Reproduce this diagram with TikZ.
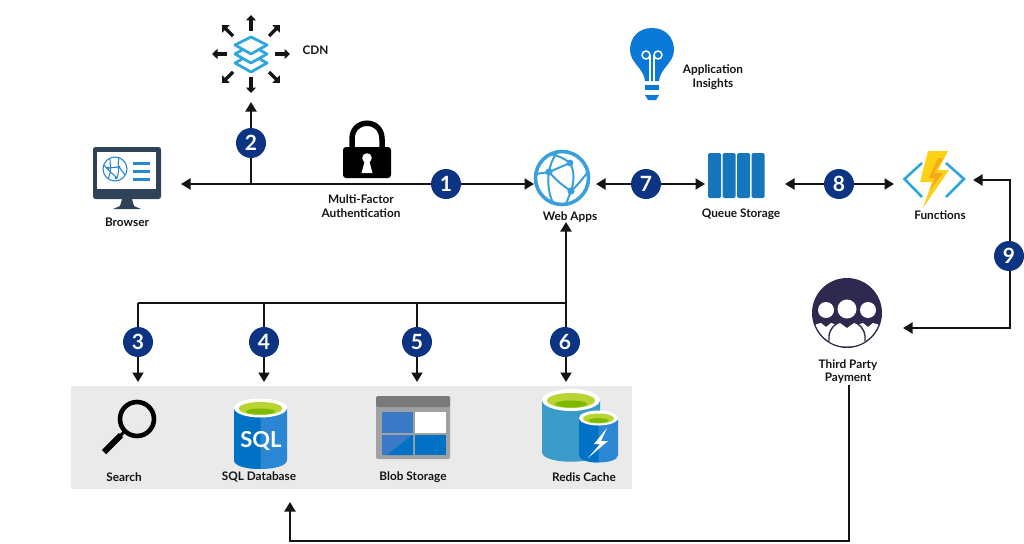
\documentclass[tikz,border=0pt]{standalone}
\usepackage{fontspec}
\setmainfont{Lato}
\usetikzlibrary{arrows.meta}
\definecolor{navy}{HTML}{0C3482}
\definecolor{ink}{HTML}{141414}
\definecolor{panel}{HTML}{EAEAEA}
\definecolor{cyanb}{HTML}{2EA7E0}
\definecolor{azblue}{HTML}{0072C6}
\definecolor{azlight}{HTML}{2B87D3}
\definecolor{azmid}{HTML}{3A78C8}
\definecolor{monitor}{HTML}{2F4358}
\definecolor{webb}{HTML}{3A9FDC}
\definecolor{redisb}{HTML}{3A9BC9}
\definecolor{redisl}{HTML}{59B4D9}
\definecolor{queueb}{HTML}{1676BC}
\definecolor{bulbb}{HTML}{0A78D7}
\definecolor{people}{HTML}{2E2A4F}
\definecolor{lime}{HTML}{B8D432}
\definecolor{limed}{HTML}{7FBA00}
\definecolor{blobg}{HTML}{A0A1A2}
\definecolor{blobd}{HTML}{7A7A7A}
\definecolor{bolty}{HTML}{FCD116}
\definecolor{bolto}{HTML}{F7A81B}
\tikzset{
  x=1pt,y=-1pt,
  badge/.style={circle,fill=navy,text=white,font=\fontsize{21}{21}\selectfont\bfseries,minimum size=30pt,inner sep=0pt,outer sep=0pt},
  lbl/.style={font=\fontsize{11.8}{13.4}\selectfont\bfseries,text=ink,align=center,inner sep=0pt},
  link/.style={line width=2pt,draw=ink},
  arr/.style={link,-{Triangle[length=9.5pt,width=11pt]}},
  arrs/.style={link,{Triangle[length=9.5pt,width=11pt]}-{Triangle[length=9.5pt,width=11pt]}},
  mini/.style={line width=3.2pt,draw=ink,-{Triangle[length=5.5pt,width=10pt,sep=0pt]}}
}
\begin{document}
\begin{tikzpicture}
\useasboundingbox (0,0) rectangle (1024,543);
\fill[panel] (71,386) rectangle (632,489);

% anchors for the connectors
\coordinate (browserIn) at (181,184);
\coordinate (webIn) at (534,184);
\coordinate (cdnIn) at (251,102);
\coordinate (junctionCdn) at (251,184);
\coordinate (webLeft) at (596,184);
\coordinate (queueLeft) at (705,184);
\coordinate (queueRight) at (785,184);
\coordinate (funcLeft) at (894,184);
\coordinate (funcRight) at (973,180);
\coordinate (funcCorner) at (1010,180);
\coordinate (tpCorner) at (1010,328);
\coordinate (tpRight) at (903,328);
\coordinate (webBottom) at (566,222);
\coordinate (webJunction) at (566,303);
\coordinate (busLeft) at (138,303);
\coordinate (searchIn) at (138,382);
\coordinate (sqlTop) at (264,303);
\coordinate (sqlIn) at (264,382);
\coordinate (blobTop) at (417,303);
\coordinate (blobIn) at (417,382);
\coordinate (redisIn) at (566,382);
\coordinate (tpOut) at (849,385);
\coordinate (tpCornerLow) at (849,541);
\coordinate (sqlCornerLow) at (290,541);
\coordinate (sqlBack) at (290,502);

% connectors
\draw[arrs] (browserIn) -- (webIn);
\draw[arr] (junctionCdn) -- (cdnIn);
\draw[arrs] (webLeft) -- (queueLeft);
\draw[arrs] (queueRight) -- (funcLeft);
\draw[arrs] (funcRight) -- (funcCorner) -- (tpCorner) -- (tpRight);
\draw[arr] (webJunction) -- (webBottom);
\draw[link] (webJunction) -- (busLeft);
\draw[arr] (busLeft) -- (searchIn);
\draw[arr] (sqlTop) -- (sqlIn);
\draw[arr] (blobTop) -- (blobIn);
\draw[arr] (webJunction) -- (redisIn);
\draw[arr] (tpOut) -- (tpCornerLow) -- (sqlCornerLow) -- (sqlBack);

% badges
\node[badge] (b1) at (446,184) {1};
\node[badge] (b2) at (251,143) {2};
\node[badge] (b3) at (138,342) {3};
\node[badge] (b4) at (264,342) {4};
\node[badge] (b5) at (417,342) {5};
\node[badge] (b6) at (565,342) {6};
\node[badge] (b7) at (646,184) {7};
\node[badge] (b8) at (839,184) {8};
\node[badge] (b9) at (1009,256) {9};

% CDN icon
\foreach \a/\b/\c/\d in {251/31/251/15,251/77/251/93,227/54/212/54,275/54/290/54,233/36/222/25,269/36/280/25,233/72/222/83,269/72/280/83}
  \draw[mini] (\a,\b) -- (\c,\d);
\draw[cyanb,line width=2.8pt,line join=round,fill=white] (235,63) -- (251,72) -- (267,63) -- (251,54) -- cycle;
\draw[cyanb,line width=2.8pt,line join=round,fill=white] (235,54) -- (251,63) -- (267,54) -- (251,45) -- cycle;
\draw[cyanb,line width=2.8pt,line join=round,fill=white] (235,45) -- (251,54) -- (267,45) -- (251,37) -- cycle;

% Browser icon
\fill[monitor,rounded corners=2.5pt] (93,147) rectangle (161,199);
\fill[monitor] (122,199) -- (132,199) -- (134,206) -- (141,209) -- (113,209) -- (120,206) -- cycle;
\fill[white] (97,152) rectangle (156,189);
\begin{scope}[azlight,line width=1.1pt]
\draw (115,169) circle (12);
\draw (104,165) .. controls (110,172) and (112,173) .. (117,178);
\draw (110,159) .. controls (110,166) and (112,170) .. (108,179);
\draw (108,168) -- (119,167) -- (125,175) ;
\draw (119,158) .. controls (117,164) and (120,170) .. (117,178);
\fill (108,168) circle (1.6);
\fill (119,167) circle (1.6);
\fill (116,178) circle (1.6);
\end{scope}
\fill[azlight] (133,162) rectangle (150,165);
\fill[azlight] (133,170) rectangle (150,173);
\fill[azlight] (133,178) rectangle (150,181);

% Lock icon
\draw[black,line width=5.5pt] (352,150) -- (352,139) .. controls (352,118) and (382,118) .. (382,139) -- (382,150);
\fill[black,rounded corners=3pt] (343,147) rectangle (391,178);
\fill[white] (367,158) circle (4.8);
\fill[white] (365,160) -- (369,160) -- (372.5,173) -- (361.5,173) -- cycle;

% Application Insights icon
\fill[bulbb] (652,28) .. controls (666,28) and (674,38) .. (674,50) .. controls (674,63) and (660,68) .. (659,81) -- (645,81) .. controls (644,68) and (630,63) .. (630,50) .. controls (630,38) and (638,28) .. (652,28) -- cycle;
\draw[white,line width=1.5pt] (650,81) -- (650,55);
\draw[white,line width=1.5pt] (654,81) -- (654,55);
\draw[white,line width=1.5pt] (646,55) circle (4);
\draw[white,line width=1.5pt] (658,55) circle (4);
\fill[bulbb] (645,85) rectangle (659,90);
\fill[bulbb] (645,95) -- (659,95) -- (656,100) -- (648,100) -- cycle;

% Web Apps icon
\begin{scope}[webb]
\draw[line width=3.6pt] (562,178) circle (26.5);
\begin{scope}[line width=2pt]
\draw (549,172) -- (570,163);
\draw (570,163) .. controls (575,172) and (574,182) .. (571,191);
\draw (549,172) .. controls (556,180) and (563,186) .. (571,191);
\draw (549,172) .. controls (547,183) and (549,194) .. (553,203);
\draw (570,163) .. controls (564,158) and (556,155) .. (550,154);
\draw (536,174) -- (549,172);
\draw (571,191) .. controls (577,186) and (583,178) .. (588,172);
\draw (571,191) -- (566,204);
\draw (549,172) .. controls (550,165) and (553,158) .. (557,152);
\end{scope}
\fill (549,172) circle (3.6);
\fill (570,163) circle (3.4);
\fill (571,191) circle (3.6);
\end{scope}

% Queue Storage icon
\foreach \xa in {708,722.5,737,751.5}
  \fill[queueb,rounded corners=1.5pt] (\xa,153) rectangle (\xa+13,198);

% Functions icon
\draw[cyanb,line width=2.6pt] (922,163) -- (904.5,179) -- (922,197);
\draw[cyanb,line width=2.6pt] (946,163) -- (964,179) -- (946,197);
\fill[bolty] (928,151) -- (948,151) -- (938,170) -- (949,170) -- (923,208) -- (932,182) -- (920,182) -- cycle;
\fill[bolto] (938,158) -- (943,158) -- (934,173) -- (943,173) -- (930,190) -- (935,178) -- (929,178) -- cycle;

% Third party icon
\fill[people] (847,313) circle (35);
\begin{scope}
\clip (847,313) circle (33.5);
\fill[white] (808,355) -- (808,332) .. controls (810,326) and (816,324) .. (821,323) -- (826,327) -- (831,323) .. controls (835,324) and (838,326) .. (840,328) -- (840,355) -- cycle;
\fill[white] (886,355) -- (886,332) .. controls (884,326) and (878,324) .. (873,323) -- (868,327) -- (863,323) .. controls (859,324) and (856,326) .. (854,328) -- (854,355) -- cycle;
\draw[people,line width=1.4pt,fill=white] (829,355) -- (829,336) .. controls (830,328) and (835,324) .. (840,322) -- (847,327) -- (854,322) .. controls (859,324) and (864,328) .. (865,336) -- (865,355) -- cycle;
\end{scope}
\fill[white] (826,310) circle (8);
\fill[white] (868,310) circle (8);
\fill[white] (847,309) circle (9.5);

% Search icon
\draw[black,line width=4.6pt] (137,419) circle (17);
\draw[black,line width=3pt] (125,431) -- (120,436);
\draw[black,line width=6pt] (121,435) -- (104,452);

% SQL Database icon
\fill[azlight] (234,408) -- (234,460) .. controls (234,472) and (287,472) .. (287,460) -- (287,408) -- cycle;
\fill[azblue] (234,408) -- (234,460) .. controls (234,466) and (247.25,469) .. (260.5,469) -- (260.5,408) -- cycle;
\fill[white] (260.5,408) ellipse (26.5 and 9.5);
\fill[lime] (260.5,408.5) ellipse (22 and 6.5);
\fill[limed] (260.5,411.5) ellipse (14.5 and 3);
\node[font=\fontsize{22}{22}\selectfont\bfseries,text=white,inner sep=0pt] (sqltext) at (261,441) {SQL};

% Blob Storage icon
\fill[blobg,rounded corners=1.5pt] (376,396) rectangle (450,459);
\fill[blobd,rounded corners=1.5pt] (376,396) rectangle (450,407);
\fill[azmid] (382,412) rectangle (413,433);
\fill[white] (414.5,412) rectangle (446,433);
\fill[azmid] (382,434.5) rectangle (413,455);
\fill[azblue] (414.5,434.5) rectangle (446,455);
\fill[azblue] (387,455) -- (413,434.5) -- (413,455) -- cycle;

% Redis Cache icon
\fill[redisb] (542,400) -- (542,452) .. controls (542,465) and (600,465) .. (600,452) -- (600,400) -- cycle;
\fill[white] (571,400) ellipse (29 and 11);
\fill[lime] (571,400.5) ellipse (24 and 7.5);
\fill[limed] (571,404) ellipse (16 and 3.5);
\fill[azlight] (579,420) -- (579,455) .. controls (579,465) and (618,465) .. (618,455) -- (618,420) -- cycle;
\fill[azblue] (579,420) -- (579,455) .. controls (579,460) and (588.75,462.5) .. (598.5,462.5) -- (598.5,420) -- cycle;
\fill[white] (598.5,418) ellipse (19.5 and 7.5);
\fill[lime] (598.5,418.5) ellipse (15.5 and 5);
\fill[limed] (598.5,420.5) ellipse (10 and 2.4);
\fill[white] (607,428) -- (594,444) -- (600,444) -- (588,458) -- (608,441) -- (601,441) -- cycle;

% Labels
\node[lbl] (lcdn) at (315.5,50) {CDN};
\node[lbl] (lbrowser) at (127,222) {Browser};
\node[lbl] (lmfa) at (361,206) {Multi-Factor\\Authentication};
\node[lbl] (lai) at (713,77) {Application\\Insights};
\node[lbl] (lweb) at (570,217) {Web Apps};
\node[lbl] (lqueue) at (741,214.5) {Queue Storage};
\node[lbl] (lfunc) at (940,215) {Functions};
\node[lbl] (ltp) at (848,371.5) {Third Party\\Payment};
\node[lbl] (lsearch) at (124,477) {Search};
\node[lbl] (lsql) at (259,477) {SQL Database};
\node[lbl] (lblob) at (413,477) {Blob Storage};
\node[lbl] (lredis) at (584,477) {Redis Cache};
\end{tikzpicture}
\end{document}
